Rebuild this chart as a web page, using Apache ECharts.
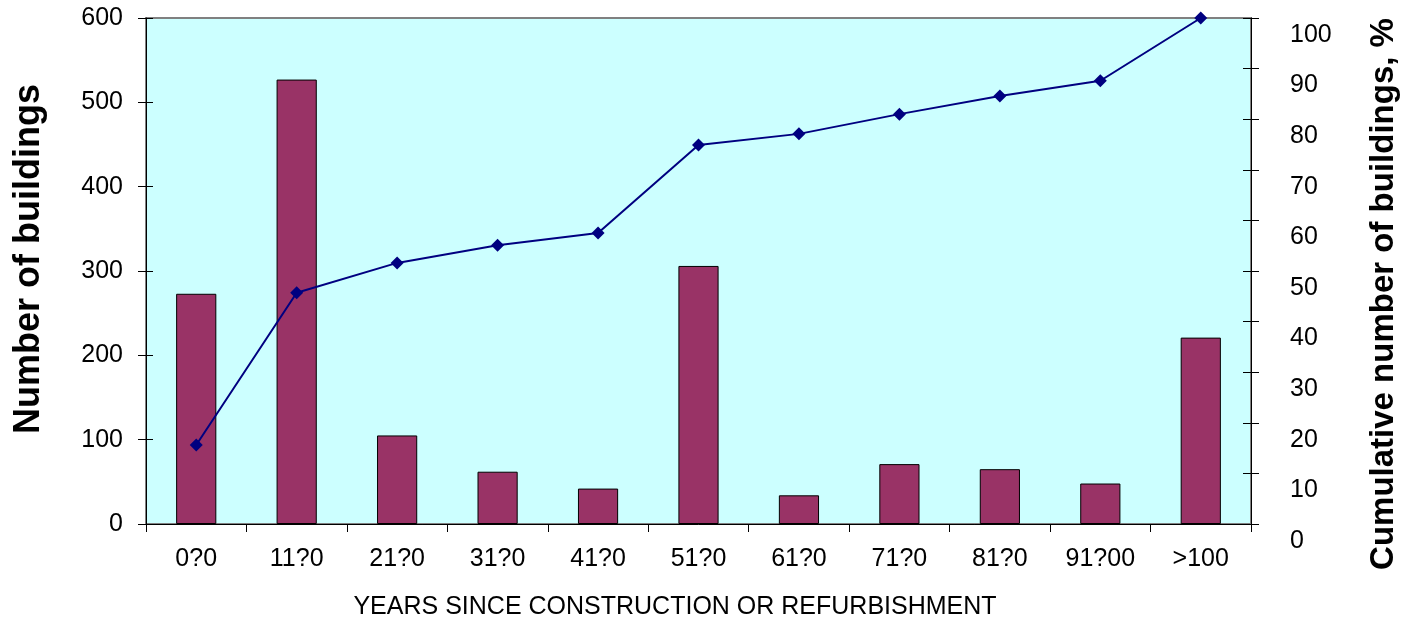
<!DOCTYPE html>
<html>
<head>
<meta charset="utf-8">
<script src="https://cdn.jsdelivr.net/npm/echarts@6/dist/echarts.min.js"></script>
<style>
  html, body { margin: 0; padding: 0; background: #ffffff; }
  #chart { width: 1402px; height: 621px; }
</style>
</head>
<body>
<div id="chart"></div>
<script>
// Age bands (labels as printed)
var categories = ['0?0', '11?0', '21?0', '31?0', '41?0', '51?0', '61?0', '71?0', '81?0', '91?00', '>100'];
// Buildings per age band
var buildings = [273, 527, 105, 62, 42, 306, 34, 71, 65, 48, 221];
// Cumulative share of buildings, %
var cumulativePct = [15.6, 45.7, 51.6, 55.1, 57.5, 74.9, 77.1, 81.0, 84.6, 87.6, 100];

var FONT = 'Liberation Sans, Arial, sans-serif';

var chart = echarts.init(document.getElementById('chart'), null, { renderer: 'canvas' });

chart.setOption({
  animation: false,
  backgroundColor: '#ffffff',
  textStyle: { fontFamily: FONT },
  grid: {
    left: 146, right: 151, top: 18, bottom: 97,
    show: true,
    backgroundColor: '#CCFFFF',
    borderColor: '#808080',
    borderWidth: 2
  },
  graphic: [
    {
      type: 'text',
      x: 675, y: 607,
      style: {
        text: 'YEARS SINCE CONSTRUCTION OR REFURBISHMENT',
        font: '25px ' + FONT,
        fill: '#000000',
        align: 'center',
        verticalAlign: 'middle'
      }
    },
    {
      type: 'text',
      x: 29, y: 259,
      rotation: Math.PI / 2,
      style: {
        text: 'Number of buildings',
        font: 'bold 36px ' + FONT,
        fill: '#000000',
        align: 'center',
        verticalAlign: 'middle'
      }
    },
    {
      type: 'text',
      x: 1384, y: 294,
      rotation: Math.PI / 2,
      style: {
        text: 'Cumulative number of buildings, %',
        font: 'bold 33px ' + FONT,
        fill: '#000000',
        align: 'center',
        verticalAlign: 'middle'
      }
    }
  ],
  xAxis: {
    type: 'category',
    data: categories,
    boundaryGap: true,
    axisLine: { lineStyle: { color: '#000000', width: 1 } },
    axisTick: { show: true, length: 8, inside: false, alignWithLabel: false, lineStyle: { color: '#000000' } },
    axisLabel: { color: '#000000', fontSize: 25, margin: 23, fontFamily: FONT, interval: 0 },
    splitLine: { show: false }
  },
  yAxis: [
    {
      type: 'value',
      position: 'left',
      min: 0, max: 600, interval: 100,
      axisLine: { show: true, lineStyle: { color: '#000000', width: 1 } },
      axisTick: { show: true, length: 8, lineStyle: { color: '#000000' } },
      axisLabel: { color: '#000000', fontSize: 25, margin: 23, fontFamily: FONT },
      splitLine: { show: false }
    },
    {
      type: 'value',
      position: 'right',
      min: 0, max: 100, interval: 10,
      axisLine: { show: true, lineStyle: { color: '#000000', width: 1 } },
      axisTick: { show: true, length: 8, lineStyle: { color: '#000000' } },
      axisLabel: {
        color: '#000000', fontSize: 25, margin: 39, fontFamily: FONT,
        verticalAlign: 'top', lineHeight: 34
      },
      splitLine: { show: false }
    },
    {
      // inner half of the crossing ticks on the left axis
      type: 'value',
      position: 'left',
      min: 0, max: 600, interval: 100,
      axisLine: { show: false },
      axisTick: { show: true, inside: true, length: 7, lineStyle: { color: '#000000' } },
      axisLabel: { show: false },
      splitLine: { show: false }
    },
    {
      // inner half of the crossing ticks on the right axis
      type: 'value',
      position: 'right',
      min: 0, max: 100, interval: 10,
      axisLine: { show: false },
      axisTick: { show: true, inside: true, length: 8, lineStyle: { color: '#000000' } },
      axisLabel: { show: false },
      splitLine: { show: false }
    }
  ],
  series: [
    {
      name: 'Number of buildings',
      type: 'bar',
      yAxisIndex: 0,
      data: buildings,
      barWidth: '40%',
      itemStyle: { color: '#993366', borderColor: '#000000', borderWidth: 1 },
      z: 2
    },
    {
      name: 'Cumulative number of buildings, %',
      type: 'line',
      yAxisIndex: 1,
      data: cumulativePct,
      symbol: 'diamond',
      symbolSize: 13,
      lineStyle: { color: '#000080', width: 2 },
      itemStyle: { color: '#000080' },
      z: 3
    }
  ]
});
</script>
</body>
</html>
